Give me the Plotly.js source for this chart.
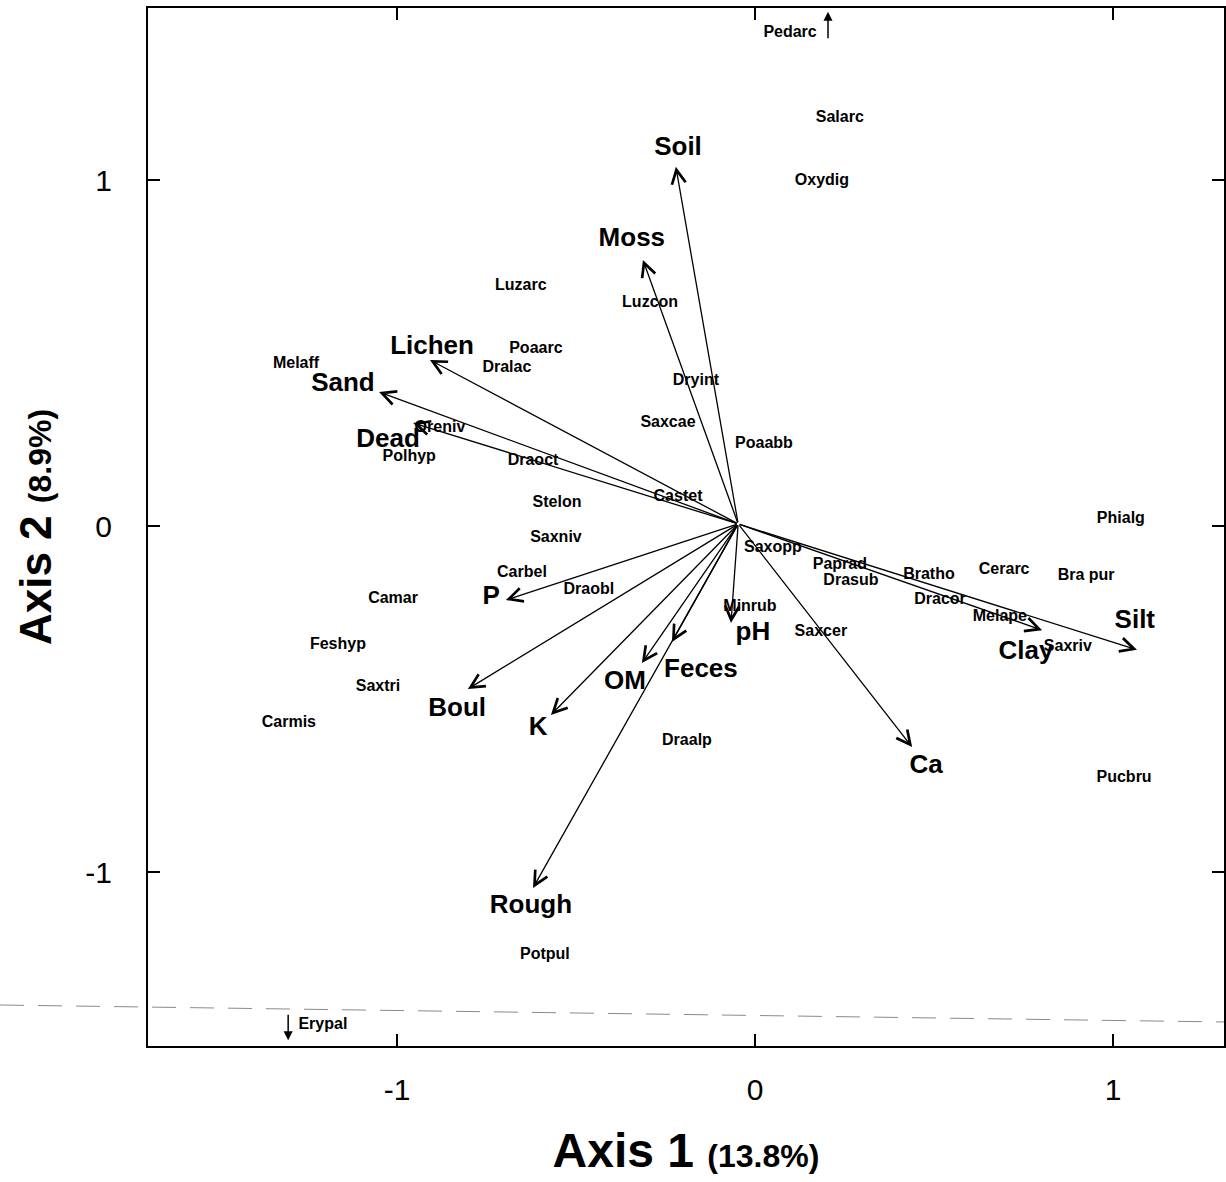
<!DOCTYPE html>
<html>
<head>
<meta charset="utf-8">
<script src="https://cdn.plot.ly/plotly-3.0.1.min.js"></script>
<style>
html,body{margin:0;padding:0;background:#fff;}
#chart{width:1226px;height:1182px;}
</style>
</head>
<body>
<div id="chart"></div>
<script>
// Environmental vectors (biplot arrows)
const envNames  = ['Soil','Moss','Lichen','Sand','Dead','P','Boul','K','OM','Feces','Rough','pH','Ca','Clay','Silt'];
const envTipX   = [-0.221,-0.313,-0.908,-1.050,-0.955,-0.696,-0.802,-0.570,-0.316,-0.232,-0.620,-0.067,0.439,0.802,1.067];
const envTipY   = [1.038,0.769,0.480,0.387,0.298,-0.214,-0.471,-0.546,-0.396,-0.335,-1.046,-0.280,-0.639,-0.301,-0.358];
const envLabelX = [-0.215,-0.344,-0.902,-1.151,-1.025,-0.737,-0.832,-0.606,-0.363,-0.151,-0.626,-0.006,0.478,0.757,1.061];
const envLabelY = [1.092,0.829,0.517,0.408,0.246,-0.208,-0.529,-0.584,-0.451,-0.419,-1.101,-0.312,-0.694,-0.367,-0.275];
const envOriginX = -0.047;
const envOriginY = 0.006;

// Species scores
const spNames = ['Pedarc','Salarc','Oxydig','Luzarc','Luzcon','Poaarc','Dralac','Melaff','Dryint','Oreniv',
  'Saxcae','Poaabb','Polhyp','Draoct','Castet','Stelon','Saxniv','Carbel','Draobl','Camar',
  'Feshyp','Saxtri','Carmis','Saxopp','Paprad','Drasub','Bratho','Dracor','Cerarc','Bra pur',
  'Melape','Saxriv','Minrub','Saxcer','Draalp','Phialg','Pucbru','Potpul','Erypal'];
const spX = [0.098,0.237,0.187,-0.654,-0.293,-0.612,-0.693,-1.282,-0.165,-0.880,
  -0.243,0.025,-0.966,-0.620,-0.215,-0.553,-0.556,-0.651,-0.464,-1.011,
  -1.165,-1.053,-1.302,0.050,0.237,0.268,0.486,0.517,0.696,0.925,
  0.684,0.874,-0.014,0.184,-0.190,1.022,1.031,-0.587,-1.207];
const spY = [1.425,1.179,0.997,0.694,0.645,0.512,0.457,0.468,0.419,0.283,
  0.298,0.237,0.199,0.188,0.084,0.066,-0.035,-0.136,-0.185,-0.211,
  -0.344,-0.465,-0.569,-0.064,-0.113,-0.159,-0.142,-0.214,-0.127,-0.145,
  -0.263,-0.350,-0.234,-0.306,-0.621,0.020,-0.728,-1.240,-1.442];

// Off-scale species markers (small arrows)
const offX     = [0.204, -1.304];
const offTailY = [1.405, -1.408];
const offTipY  = [1.486, -1.486];

// Axis ticks
const tickVals = [-1, 0, 1];
const tickText = ['-1', '0', '1'];

const FONT = 'Liberation Sans, Arial, Helvetica, sans-serif';

const traces = [
  {
    type: 'scatter', mode: 'text',
    x: spX, y: spY, text: spNames,
    textposition: 'middle center',
    textfont: {family: FONT, size: 16, color: '#000', weight: 'bold'},
    hoverinfo: 'text', showlegend: false, cliponaxis: false
  },
  {
    type: 'scatter', mode: 'text',
    x: envLabelX, y: envLabelY, text: envNames,
    textposition: 'middle center',
    textfont: {family: FONT, size: 26, color: '#000', weight: 'bold'},
    hoverinfo: 'text', showlegend: false, cliponaxis: false
  }
];

const annotations = [];
for (let i = 0; i < envNames.length; i++) {
  annotations.push({
    x: envTipX[i], y: envTipY[i], xref: 'x', yref: 'y',
    ax: envOriginX, ay: envOriginY, axref: 'x', ayref: 'y',
    text: '', showarrow: true, arrowhead: 5, arrowsize: 2.1,
    arrowwidth: 1.3, arrowcolor: '#000', standoff: 0, startstandoff: 0
  });
}
for (let i = 0; i < offX.length; i++) {
  annotations.push({
    x: offX[i], y: offTipY[i], xref: 'x', yref: 'y',
    ax: offX[i], ay: offTailY[i], axref: 'x', ayref: 'y',
    text: '', showarrow: true, arrowhead: 2, arrowsize: 1.2,
    arrowwidth: 1.5, arrowcolor: '#000', standoff: 0
  });
}

const axisCommon = {
  showgrid: false, zeroline: false,
  showline: true, linecolor: '#000', linewidth: 2, mirror: 'ticks',
  ticks: 'inside', ticklen: 12, tickwidth: 1.5, tickcolor: '#000',
  tickmode: 'array', tickvals: tickVals, ticktext: tickText,
  tickfont: {family: FONT, size: 30, color: '#000'}
};

const layout = {
  width: 1226, height: 1182,
  margin: {l: 148, r: 2, t: 8, b: 136},
  paper_bgcolor: '#fff', plot_bgcolor: '#fff',
  showlegend: false,
  xaxis: Object.assign({}, axisCommon, {
    range: [-1.6955, 1.3101],
    ticklabelstandoff: 16,
    title: {
      text: '<b>Axis 1 <span style="font-size:32px">(13.8%)</span></b>',
      font: {family: FONT, size: 48, color: '#000'},
      standoff: 28
    }
  }),
  yaxis: Object.assign({}, axisCommon, {
    range: [-1.5029, 1.4971],
    ticklabelstandoff: 28,
    title: {
      text: '<b>Axis 2 <span style="font-size:32px">(8.9%)</span></b>',
      font: {family: FONT, size: 44, color: '#000'},
      standoff: 20
    }
  }),
  annotations: annotations,
  shapes: [{
    type: 'line', xref: 'paper', yref: 'paper',
    x0: -0.1375, y0: 0.0395, x1: 1.0019, y1: 0.0231,
    line: {color: '#8a8a8a', width: 1, dash: '24px,14px'},
    layer: 'below'
  }]
};

Plotly.newPlot('chart', traces, layout, {displayModeBar: false, staticPlot: true});
</script>
</body>
</html>
